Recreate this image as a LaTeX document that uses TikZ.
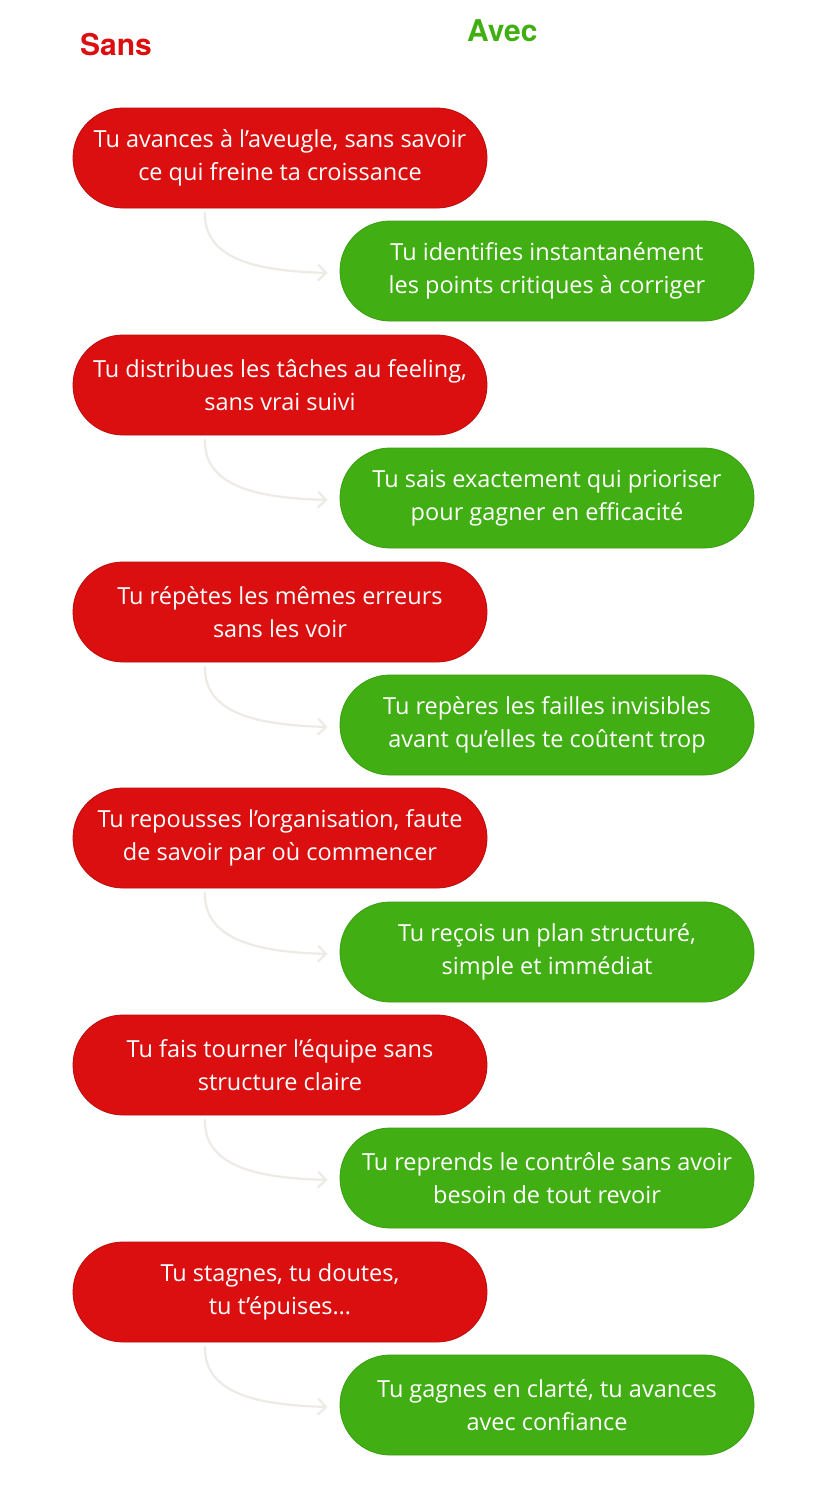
\documentclass[tikz,border=0pt]{standalone}
\usepackage{fontspec}
\setmainfont{Open Sans}
\newfontfamily\headfont{TeX Gyre Heros}
\usetikzlibrary{arrows.meta}
\definecolor{sansred}{HTML}{DB0F0F}
\definecolor{avecgreen}{HTML}{41AF14}
\definecolor{flowgray}{HTML}{EEEAE6}
\tikzset{
    pill/.style={rounded corners=50pt, minimum width=414pt, minimum height=100pt,
        text=white, align=center, font=\fontsize{23.5}{32.5}\selectfont, inner sep=0pt},
    sanspill/.style={pill, fill=sansred, draw=sansred!85!black, line width=0.8pt},
    avecpill/.style={pill, fill=avecgreen, draw=avecgreen!90!black, line width=0.8pt},
    flow/.style={flowgray, line width=2.2pt, -{Straight Barb[length=8pt,width=16pt]}},
    head/.style={font=\headfont\fontsize{30}{36}\selectfont, inner sep=0pt}
}
\begin{document}
\begin{tikzpicture}[x=1pt,y=1pt]
    \useasboundingbox[fill=white] (0,0) rectangle (830,-1500);
    % titres
    \node[head, anchor=west, text=sansred] (sans) at (80,-45) {\bfseries Sans};
    \node[head, anchor=west, text=white] (diag) at (sans.east) {\ Diagnostic};
    \node[head, text=white] (vs) at (392,-45) {VS};
    \node[head, anchor=west, text=avecgreen] (avec) at (467,-31) {\bfseries Avec};
    \node[head, anchor=west, text=white] (le) at (avec.east) {\ le diagnostic};
    \node[head, text=white] (express) at (605,-64) {Express Performance};
    % sans / avec
    \node[sanspill] (r1) at (280,-158) {Tu avances à l’aveugle, sans savoir\\ce qui freine ta croissance};
    \node[avecpill] (g1) at (547,-271) {Tu identifies instantanément\\les points critiques à corriger};
    \node[sanspill] (r2) at (280,-385) {Tu distribues les tâches au feeling,\\sans vrai suivi};
    \node[avecpill] (g2) at (547,-498) {Tu sais exactement qui prioriser\\pour gagner en efficacité};
    \node[sanspill] (r3) at (280,-612) {Tu répètes les mêmes erreurs\\sans les voir};
    \node[avecpill] (g3) at (547,-725) {Tu repères les failles invisibles\\avant qu’elles te coûtent trop};
    \node[sanspill] (r4) at (280,-838) {Tu repousses l’organisation, faute\\de savoir par où commencer};
    \node[avecpill] (g4) at (547,-952) {Tu reçois un plan structuré,\\simple et immédiat};
    \node[sanspill] (r5) at (280,-1065) {Tu fais tourner l’équipe sans\\structure claire};
    \node[avecpill] (g5) at (547,-1178) {Tu reprends le contrôle sans avoir\\besoin de tout revoir};
    \node[sanspill] (r6) at (280,-1292) {Tu stagnes, tu doutes,\\tu t’épuises…};
    \node[avecpill] (g6) at (547,-1405) {Tu gagnes en clarté, tu avances\\avec confiance};
    % fleches
    \foreach \i in {1,...,6}
        \draw[flow] ([xshift=-75pt,yshift=-4pt]r\i.south) to[out=-92,in=178] ([xshift=-12pt,yshift=-2pt]g\i.west);
\end{tikzpicture}
\end{document}
